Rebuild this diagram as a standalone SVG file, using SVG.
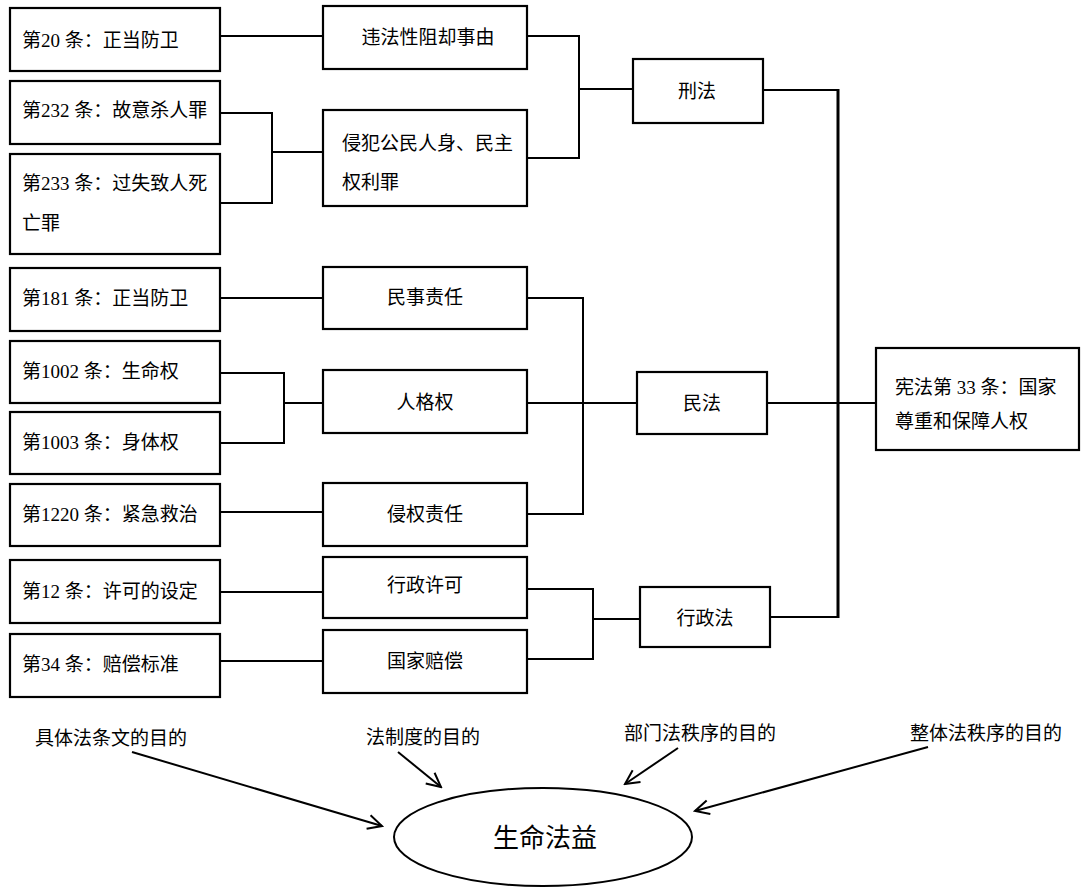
<svg xmlns="http://www.w3.org/2000/svg" width="1083" height="894" viewBox="0 0 1083 894">
<style>
.box{fill:#fff;stroke:#000;stroke-width:2.2}
.t{font-family:"Liberation Serif","Noto Sans CJK SC",serif;font-size:19px;fill:#000}
.c{text-anchor:middle}
.ln{fill:none;stroke:#000;stroke-width:2}
.main{fill:none;stroke:#000;stroke-width:3}
.ar{fill:none;stroke:#000;stroke-width:2}
</style>
<defs>
<marker id="open" viewBox="0 0 20 20" refX="18" refY="10" markerWidth="20" markerHeight="20" markerUnits="userSpaceOnUse" orient="auto">
<polyline points="4,3 18,10 4,17" fill="none" stroke="#000" stroke-width="2"/>
</marker>
</defs>
<rect width="1083" height="894" fill="#fff"/>
<g id="connectors">
<path class="ln" d="M220,36H323"/>
<path class="ln" d="M220,113H272V203H220M272,152H323"/>
<path class="ln" d="M527,36H579V158H527M579,89H633"/>
<path class="ln" d="M763,90H839M770,617H839"/>
<path class="main" d="M838,89V618"/>
<path class="ln" d="M767,403H876"/>
<path class="ln" d="M220,298H323"/>
<path class="ln" d="M527,298H583V514H527M527,403H637"/>
<path class="ln" d="M220,373H284V443H220M284,403H323"/>
<path class="ln" d="M220,512H323"/>
<path class="ln" d="M220,592H323"/>
<path class="ln" d="M220,661H323"/>
<path class="ln" d="M527,589H593V659H527M593,619H640"/>
<path class="ar" d="M132,752L382,826" marker-end="url(#open)"/>
<path class="ar" d="M398,752L441,787" marker-end="url(#open)"/>
<path class="ar" d="M678,748L625,784" marker-end="url(#open)"/>
<path class="ar" d="M928,747L695,811" marker-end="url(#open)"/>
</g>
<g id="n20"><rect class="box" x="10" y="8" width="210" height="63"/><text class="t" x="22" y="47">第20 条：正当防卫</text></g>
<g id="n232"><rect class="box" x="10" y="81" width="210" height="63"/><text class="t" x="22" y="117">第232 条：故意杀人罪</text></g>
<g id="n233"><rect class="box" x="10" y="154" width="210" height="100"/><text class="t" x="22" y="190">第233 条：过失致人死</text><text class="t" x="22" y="230">亡罪</text></g>
<g id="n181"><rect class="box" x="10" y="268" width="210" height="63"/><text class="t" x="22" y="305">第181 条：正当防卫</text></g>
<g id="n1002"><rect class="box" x="10" y="341" width="210" height="62"/><text class="t" x="22" y="378">第1002 条：生命权</text></g>
<g id="n1003"><rect class="box" x="10" y="412" width="210" height="62"/><text class="t" x="22" y="449">第1003 条：身体权</text></g>
<g id="n1220"><rect class="box" x="10" y="484" width="210" height="62"/><text class="t" x="22" y="521">第1220 条：紧急救治</text></g>
<g id="n12"><rect class="box" x="10" y="560" width="210" height="63"/><text class="t" x="22" y="598">第12 条：许可的设定</text></g>
<g id="n34"><rect class="box" x="10" y="634" width="210" height="63"/><text class="t" x="22" y="671">第34 条：赔偿标准</text></g>
<g id="wfx"><rect class="box" x="323" y="6" width="204" height="63"/><text class="t c" x="428" y="44">违法性阻却事由</text></g>
<g id="qf"><rect class="box" x="323" y="110" width="204" height="96"/><text class="t" x="342" y="150">侵犯公民人身、民主</text><text class="t" x="342" y="189">权利罪</text></g>
<g id="mszr"><rect class="box" x="323" y="267" width="204" height="62"/><text class="t c" x="425" y="304">民事责任</text></g>
<g id="rgq"><rect class="box" x="323" y="370" width="204" height="63"/><text class="t c" x="425" y="409">人格权</text></g>
<g id="qqzr"><rect class="box" x="323" y="483" width="204" height="63"/><text class="t c" x="425" y="521">侵权责任</text></g>
<g id="xzxk"><rect class="box" x="323" y="557" width="204" height="61"/><text class="t c" x="425" y="592">行政许可</text></g>
<g id="gjpc"><rect class="box" x="323" y="630" width="204" height="63"/><text class="t c" x="425" y="668">国家赔偿</text></g>
<g id="xf"><rect class="box" x="633" y="59" width="130" height="64"/><text class="t c" x="697" y="98">刑法</text></g>
<g id="mf"><rect class="box" x="637" y="372" width="130" height="62"/><text class="t c" x="702" y="410">民法</text></g>
<g id="xzf"><rect class="box" x="640" y="587" width="130" height="60"/><text class="t c" x="705" y="625">行政法</text></g>
<g id="xianfa"><rect class="box" x="876" y="348" width="203" height="102"/><text class="t" x="895" y="394">宪法第 33 条：国家</text><text class="t" x="895" y="428">尊重和保障人权</text></g>
<g id="labels">
<text class="t" x="35" y="745">具体法条文的目的</text>
<text class="t" x="366" y="744">法制度的目的</text>
<text class="t" x="624" y="740">部门法秩序的目的</text>
<text class="t" x="910" y="740">整体法秩序的目的</text>
</g>
<g id="shengming"><ellipse cx="543" cy="837" rx="149" ry="49" fill="#fff" stroke="#000" stroke-width="2"/><text class="t c" x="545" y="847" style="font-size:26px">生命法益</text></g>
</svg>
